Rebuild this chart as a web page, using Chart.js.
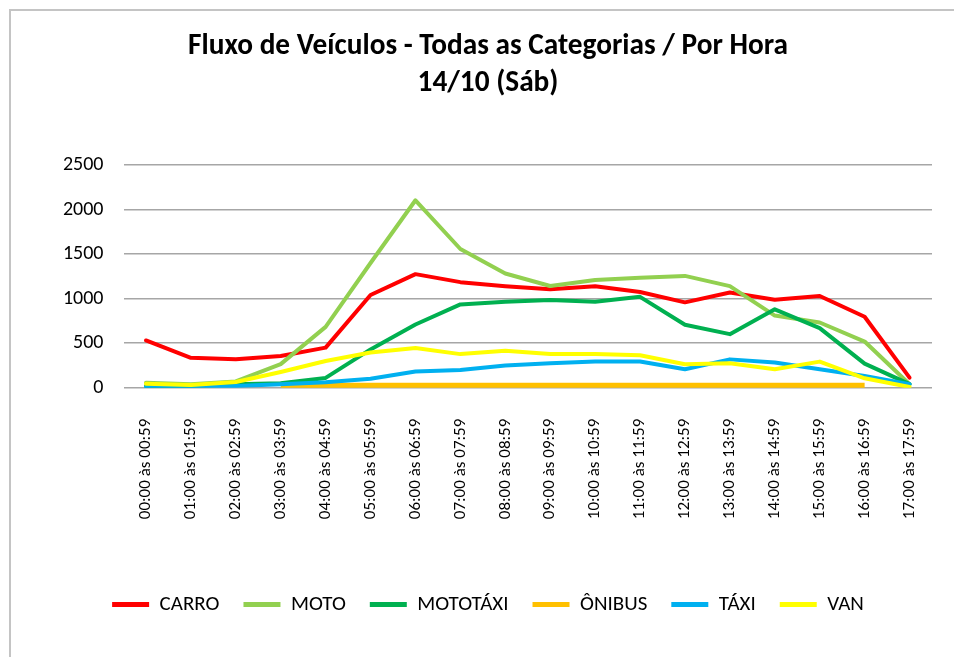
<!DOCTYPE html>
<html>
<head>
<meta charset="utf-8">
<script src="https://cdn.jsdelivr.net/npm/chart.js@4/dist/chart.umd.min.js"></script>
<style>
  html, body { margin: 0; padding: 0; background: #fff; }
  #wrap { position: relative; width: 954px; height: 657px; overflow: hidden; }
  #frame { position: absolute; left: 9px; top: 9px; right: -10px; bottom: -10px;
           border-left: 2px solid #c4c4c4; border-top: 2px solid #c4c4c4; }
  canvas { position: absolute; left: 0; top: 0; }
</style>
</head>
<body>
<div id="wrap">
  <div id="frame"></div>
  <canvas id="chart" width="954" height="657"></canvas>
</div>
<script>
// Hourly vehicle counts
const hours = [
  "00:00 às 00:59", "01:00 às 01:59", "02:00 às 02:59", "03:00 às 03:59",
  "04:00 às 04:59", "05:00 às 05:59", "06:00 às 06:59", "07:00 às 07:59",
  "08:00 às 08:59", "09:00 às 09:59", "10:00 às 10:59", "11:00 às 11:59",
  "12:00 às 12:59", "13:00 às 13:59", "14:00 às 14:59", "15:00 às 15:59",
  "16:00 às 16:59", "17:00 às 17:59"
];
const carro    = [530, 335, 320, 355, 450, 1040, 1275, 1185, 1140, 1105, 1140, 1075, 958, 1068, 988, 1030, 796, 113];
const moto     = [55, 38, 70, 265, 683, 1400, 2104, 1557, 1282, 1142, 1210, 1235, 1255, 1140, 810, 732, 518, 38];
const mototaxi = [20, 20, 40, 50, 110, 430, 709, 935, 965, 984, 965, 1020, 706, 601, 880, 669, 270, 40];
const onibus   = [null, null, null, 15, 15, 15, 15, 15, 15, 15, 15, 15, 15, 15, 15, 15, 15, null];
const taxi     = [5, 0, 20, 38, 60, 100, 181, 200, 249, 275, 294, 295, 207, 318, 282, 207, 132, 40];
const van      = [45, 30, 64, 177, 300, 395, 445, 377, 415, 377, 377, 365, 263, 275, 207, 293, 106, 8];
const yTicks   = [0, 500, 1000, 1500, 2000, 2500];

const FONT = "Carlito, Lato, sans-serif";

function series(label, data, color, width, idx) {
  return {
    label, data,
    borderColor: color, backgroundColor: color,
    borderWidth: width,
    pointRadius: 0, pointHoverRadius: 0,
    tension: 0,
    borderJoinStyle: "round",
    borderCapStyle: label === "ÔNIBUS" ? "butt" : "round",
    spanGaps: false,
    order: -idx   // later series drawn on top, like the original
  };
}

new Chart(document.getElementById("chart"), {
  type: "line",
  data: {
    labels: hours,
    datasets: [
      series("CARRO", carro, "#FF0000", 4, 0),
      series("MOTO", moto, "#92D050", 4, 1),
      series("MOTOTÁXI", mototaxi, "#00B050", 4, 2),
      series("ÔNIBUS", onibus, "#FFC000", 7, 3),
      series("TÁXI", taxi, "#00B0F0", 4, 4),
      series("VAN", van, "#FFFF00", 4, 5)
    ]
  },
  options: {
    responsive: false,
    animation: false,
    events: [],
    layout: { padding: { left: 44, right: 22, top: 28.5, bottom: 32 } },
    plugins: {
      title: {
        display: true,
        text: ["Fluxo de Veículos - Todas as Categorias / Por Hora", "14/10 (Sáb)"],
        color: "#000",
        font: { family: FONT, size: 29.3, weight: "bold", lineHeight: 1.263 },
        padding: { top: 0, bottom: 62.5 }
      },
      legend: {
        position: "bottom",
        labels: {
          color: "#000",
          font: { family: FONT, size: 21 },
          boxWidth: 37,
          boxHeight: 5,
          padding: 24,
          sort: (a, b) => a.datasetIndex - b.datasetIndex,
          generateLabels: chart =>
            Chart.defaults.plugins.legend.labels.generateLabels(chart)
              .map(l => ({ ...l, lineWidth: 0, fillStyle: l.strokeStyle }))
        }
      },
      tooltip: { enabled: false }
    },
    scales: {
      x: {
        offset: true,
        grid: { display: false, drawTicks: false },
        border: { display: false },
        ticks: {
          color: "#000",
          font: { family: FONT, size: 17 },
          minRotation: 90, maxRotation: 90,
          padding: 31,
          autoSkip: false
        },
        afterFit: s => {
          s.height = 182.3;
          s.paddingLeft = 0;
          s.paddingRight = 0;
        }
      },
      y: {
        min: 0, max: 2500,
        afterBuildTicks: s => { s.ticks = yTicks.map(v => ({ value: v })); },
        grid: { color: "#a6a6a6", lineWidth: 1.5, drawTicks: false },
        border: { display: false },
        ticks: {
          color: "#000",
          font: { family: FONT, size: 20 },
          padding: 20,
          callback: v => String(v)
        },
        afterFit: s => { s.width = 79.5; }
      }
    }
  }
});
</script>
</body>
</html>
